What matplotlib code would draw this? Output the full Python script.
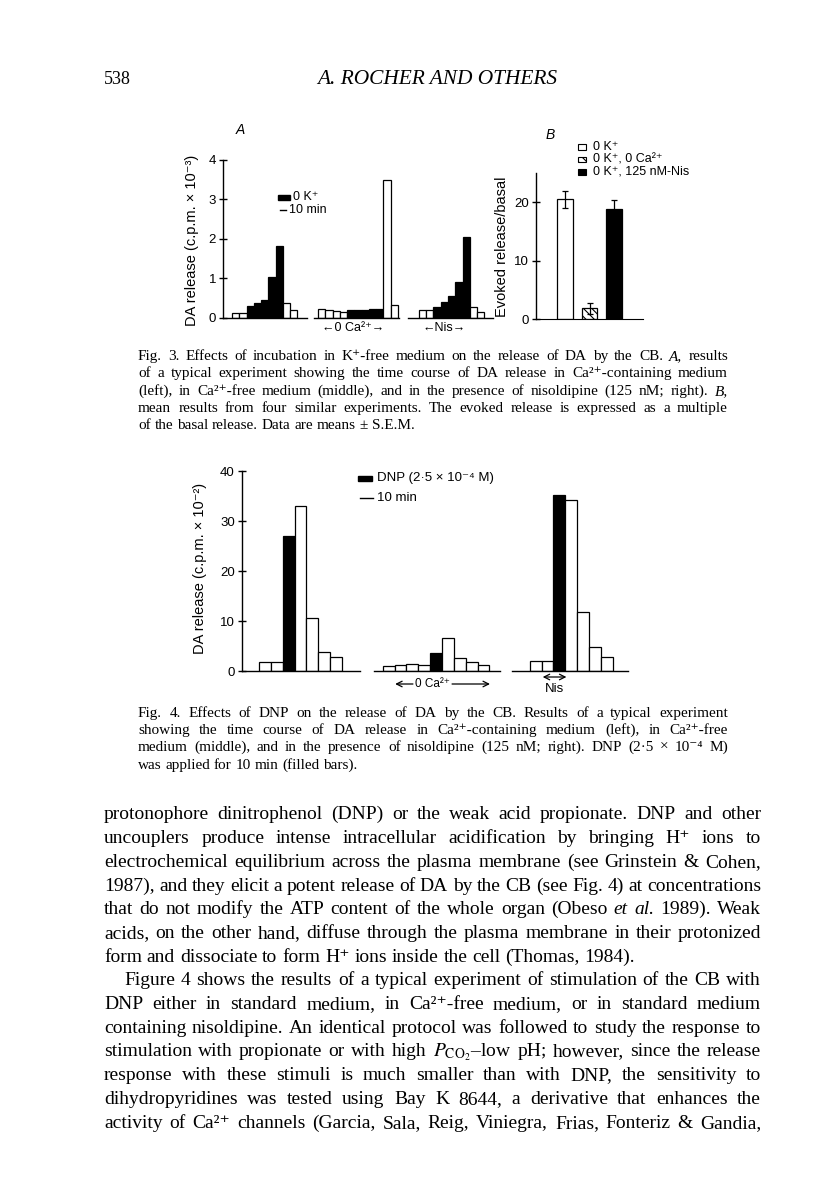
import matplotlib
matplotlib.use('Agg')
import matplotlib.pyplot as plt
from matplotlib.patches import Rectangle
from matplotlib.lines import Line2D
import numpy as np

W, H = 816, 1181
SANS = ['Liberation Sans', 'DejaVu Sans']
SERIF = ['Liberation Serif', 'DejaVu Serif']
plt.rcParams['font.family'] = SANS
plt.rcParams['mathtext.fontset'] = 'stix'
plt.rcParams['hatch.linewidth'] = 0.8

# Fig. 3A - DA release (c.p.m. x 10^-3), 10 min samples; 1 = 0 K+ medium
f3_ctrl = [0.13, 0.13, 0.31, 0.38, 0.46, 1.03, 1.83, 0.38, 0.19]
f3_ctrl_k = [0, 0, 1, 1, 1, 1, 1, 0, 0]
f3_ca = [0.24, 0.21, 0.17, 0.15, 0.21, 0.21, 0.20, 0.23, 0.24, 3.49, 0.33]
f3_ca_k = [0, 0, 0, 0, 1, 1, 1, 1, 1, 0, 0]
f3_nis = [0.19, 0.19, 0.29, 0.40, 0.55, 0.90, 2.05, 0.27, 0.14]
f3_nis_k = [0, 0, 1, 1, 1, 1, 1, 0, 0]

# Fig. 3B - evoked release / basal, mean and s.e.m.
b_labels = ['0 K⁺', '0 K⁺, 0 Ca²⁺', '0 K⁺, 125 nM-Nis']
b_mean = [20.5, 1.8, 18.8]
b_sem = [1.5, 0.9, 1.5]

# Fig. 4 - DA release (c.p.m. x 10^-2); 1 = DNP applied
f4_ctrl = [1.8, 1.8, 27.1, 33.1, 10.7, 3.9, 2.8]
f4_ctrl_d = [0, 0, 1, 0, 0, 0, 0]
f4_ca = [1.1, 1.3, 1.4, 1.25, 3.7, 6.6, 2.6, 1.8, 1.25]
f4_ca_d = [0, 0, 0, 0, 1, 0, 0, 0, 0]
f4_nis = [2.1, 2.1, 35.2, 34.2, 11.8, 4.9, 2.8]
f4_nis_d = [0, 0, 1, 0, 0, 0, 0]

fig = plt.figure(figsize=(W / 100, H / 100), dpi=100)
renderer = fig.canvas.get_renderer()


def add_axes(x0, y0, x1, y1):
    return fig.add_axes([x0 / W, 1 - y1 / H, (x1 - x0) / W, (y1 - y0) / H])


def ftext(x, y, s, **kw):
    return fig.text(x / W, 1 - y / H, s, **kw)


def style(ax, ticks, bottom=False):
    for s in ['top', 'right', 'bottom']:
        ax.spines[s].set_visible(False)
    ax.spines['bottom'].set_visible(bottom)
    ax.spines['left'].set_linewidth(1.0)
    ax.set_xticks([])
    ax.set_yticks(ticks)
    ax.tick_params(axis='y', direction='inout', length=6, width=1, pad=2, labelsize=9.5)


def runs(ax, groups, starts, spans):
    for (vals, flags), b0, (s0, s1) in zip(groups, starts, spans):
        x = b0 + np.arange(len(vals)) + 0.5
        ax.bar(x, vals, width=1.0, color=['black' if f else 'white' for f in flags],
               edgecolor='black', linewidth=0.9, zorder=2)
        ax.plot([s0, s1], [0, 0], color='black', lw=1.0, clip_on=False, zorder=3)


def rect(x0, y0, w, h, **kw):
    fig.add_artist(Rectangle((x0 / W, 1 - (y0 + h) / H), w / W, h / H,
                             transform=fig.transFigure, **kw))


def hline(x0, x1, y):
    fig.add_artist(Line2D([x0 / W, x1 / W], [1 - y / H, 1 - y / H],
                          transform=fig.transFigure, color='black', lw=1.0))


# ---- Fig. 3A
ax = add_axes(223, 160, 493, 318)
runs(ax, [(f3_ctrl, f3_ctrl_k), (f3_ca, f3_ca_k), (f3_nis, f3_nis_k)],
     [1.24, 13.1, 27.0], [(0, 11.6), (12.6, 24.2), (25.5, 37.2)])
ax.set_xlim(0, 37.2)
ax.set_ylim(0, 4)
style(ax, [0, 1, 2, 3, 4])
ax.text(17.9, -0.26, '←0 Ca²⁺→', ha='center', va='center', fontsize=9)
ax.text(30.4, -0.26, '←Nis→', ha='center', va='center', fontsize=9)
ftext(192, 240, 'DA release (c.p.m. × 10⁻³)', rotation=90, ha='center', va='center', fontsize=10.5)
ftext(240, 130, 'A', style='italic', ha='center', va='center', fontsize=10)
rect(278, 195, 12, 5, facecolor='black', edgecolor='black')
ftext(293, 197, '0 K⁺', ha='left', va='center', fontsize=9)
hline(280, 286, 210)
ftext(289, 210, '10 min', ha='left', va='center', fontsize=9)

# ---- Fig. 3B
ax = add_axes(536, 173, 643, 319)
xb = 1.8 + 1.55 * np.arange(len(b_mean))
bars = ax.bar(xb, b_mean, width=1.0, color=['white', 'white', 'black'],
              edgecolor='black', linewidth=0.9, zorder=2)
bars[1].set_hatch('\\\\\\\\')
ax.errorbar(xb, b_mean, yerr=b_sem, fmt='none', ecolor='black', elinewidth=0.9,
            capsize=2.5, capthick=0.9, zorder=3)
ax.set_xlim(0, 6.7)
ax.set_ylim(0, 25)
style(ax, [0, 10, 20], bottom=True)
ftext(502, 247, 'Evoked release/basal', rotation=90, ha='center', va='center', fontsize=10.5)
ftext(550, 135, 'B', style='italic', ha='center', va='center', fontsize=10)
for i, (lab, fc, hat) in enumerate(zip(b_labels, ['white', 'white', 'black'], [None, '\\\\\\\\', None])):
    y = 147 + 12.5 * i
    rect(578, y - 2.5, 8, 5, facecolor=fc, edgecolor='black', hatch=hat, lw=0.8)
    ftext(593, y, lab, ha='left', va='center', fontsize=9)

# ---- Fig. 4
ax = add_axes(241.7, 471, 638.7, 671)
runs(ax, [(f4_ctrl, f4_ctrl_d), (f4_ca, f4_ca_d), (f4_nis, f4_nis_d)],
     [1.46, 11.9, 24.3], [(0, 10.0), (11.2, 21.8), (22.8, 32.6)])
ax.set_xlim(0, 33.5)
ax.set_ylim(0, 40)
style(ax, [0, 10, 20, 30, 40])
ax.text(16.06, -2.6, '0 Ca²⁺', ha='center', va='center', fontsize=8.5)
arr = dict(arrowstyle='->', lw=0.9, shrinkA=0, shrinkB=0)
ax.annotate('', xy=(12.95, -2.6), xytext=(14.45, -2.6), arrowprops=arr, annotation_clip=False)
ax.annotate('', xy=(20.95, -2.6), xytext=(17.75, -2.6), arrowprops=arr, annotation_clip=False)
ax.annotate('', xy=(25.4, -1.2), xytext=(27.4, -1.2),
            arrowprops=dict(arrowstyle='<->', lw=0.9, shrinkA=0, shrinkB=0), annotation_clip=False)
ax.text(26.4, -3.6, 'Nis', ha='center', va='center', fontsize=9.5)
ftext(200, 568, 'DA release (c.p.m. × 10⁻²)', rotation=90, ha='center', va='center', fontsize=10.5)
rect(358, 476, 14, 5, facecolor='black', edgecolor='black')
ftext(377, 478, 'DNP (2·5 × 10⁻⁴ M)', ha='left', va='center', fontsize=9.5)
hline(360, 373, 498)
ftext(377, 498, '10 min', ha='left', va='center', fontsize=9.5)


# ---- page text
def tokens(line):
    out = []
    for w in line.split(' '):
        if w.startswith('_'):
            out.append((w[1:], 'italic'))
        else:
            out.append((w, 'normal'))
    return out


def wwidth(w, size, st):
    t = fig.text(0, 0, w, fontsize=size, family=SERIF, style=st)
    wd = t.get_window_extent(renderer).width
    t.remove()
    return wd


def block(lines, x0, x1, y0, dy, size):
    fit = size
    for text, just, ind in lines:
        if not just:
            continue
        words = tokens(text)
        nat = sum(wwidth(w, size, st) for w, st in words) + 0.2 * size * 100 / 72 * (len(words) - 1)
        fit = min(fit, size * (x1 - x0 - ind) / nat)
    em = fit * 100 / 72
    for i, (text, just, ind) in enumerate(lines):
        words = tokens(text)
        widths = [wwidth(w, fit, st) for w, st in words]
        sp = 0.25 * em
        if just and len(words) > 1:
            sp = (x1 - x0 - ind - sum(widths)) / (len(words) - 1)
        x = x0 + ind
        yb = round(y0 + i * dy + 0.33 * em)
        for (w, st), wd in zip(words, widths):
            ftext(x, yb, w, fontsize=fit, family=SERIF, style=st, ha='left', va='baseline')
            x += wd + sp


ftext(104, 80, '538', fontsize=13, family=SERIF, ha='left', va='center')
hdr = ftext(437, 80, 'A. ROCHER AND OTHERS', fontsize=13, family=SERIF, style='italic',
            ha='center', va='center')
hw = hdr.get_window_extent(renderer).width
hdr.set_fontsize(13 * 240 / hw)

cap3 = [
    ('Fig. 3. Effects of incubation in K⁺-free medium on the release of DA by the CB. _A, results', True, 0),
    ('of a typical experiment showing the time course of DA release in Ca²⁺-containing medium', True, 0),
    ('(left), in Ca²⁺-free medium (middle), and in the presence of nisoldipine (125 nM; right). _B,', True, 0),
    ('mean results from four similar experiments. The evoked release is expressed as a multiple', True, 0),
    ('of the basal release. Data are means ± S.E.M.', False, 0),
]
block(cap3, 138, 728, 355, 17.3, 11)

cap4 = [
    ('Fig. 4. Effects of DNP on the release of DA by the CB. Results of a typical experiment', True, 0),
    ('showing the time course of DA release in Ca²⁺-containing medium (left), in Ca²⁺-free', True, 0),
    ('medium (middle), and in the presence of nisoldipine (125 nM; right). DNP (2·5 × 10⁻⁴ M)', True, 0),
    ('was applied for 10 min (filled bars).', False, 0),
]
block(cap4, 138, 728, 712, 17.2, 11)

body = [
    ('protonophore dinitrophenol (DNP) or the weak acid propionate. DNP and other', True, 0),
    ('uncouplers produce intense intracellular acidification by bringing H⁺ ions to', True, 0),
    ('electrochemical equilibrium across the plasma membrane (see Grinstein & Cohen,', True, 0),
    ('1987), and they elicit a potent release of DA by the CB (see Fig. 4) at concentrations', True, 0),
    ('that do not modify the ATP content of the whole organ (Obeso _et _al. 1989). Weak', True, 0),
    ('acids, on the other hand, diffuse through the plasma membrane in their protonized', True, 0),
    ('form and dissociate to form H⁺ ions inside the cell (Thomas, 1984).', False, 0),
    ('Figure 4 shows the results of a typical experiment of stimulation of the CB with', True, 20),
    ('DNP either in standard medium, in Ca²⁺-free medium, or in standard medium', True, 0),
    ('containing nisoldipine. An identical protocol was followed to study the response to', True, 0),
    ('stimulation with propionate or with high $P_{\\mathrm{CO}_2}$–low pH; however, since the release', True, 0),
    ('response with these stimuli is much smaller than with DNP, the sensitivity to', True, 0),
    ('dihydropyridines was tested using Bay K 8644, a derivative that enhances the', True, 0),
    ('activity of Ca²⁺ channels (Garcia, Sala, Reig, Viniegra, Frias, Fonteriz & Gandia,', True, 0),
]
block(body, 104, 761, 813, 23.7, 14)

fig.savefig('out.png', dpi=100)
